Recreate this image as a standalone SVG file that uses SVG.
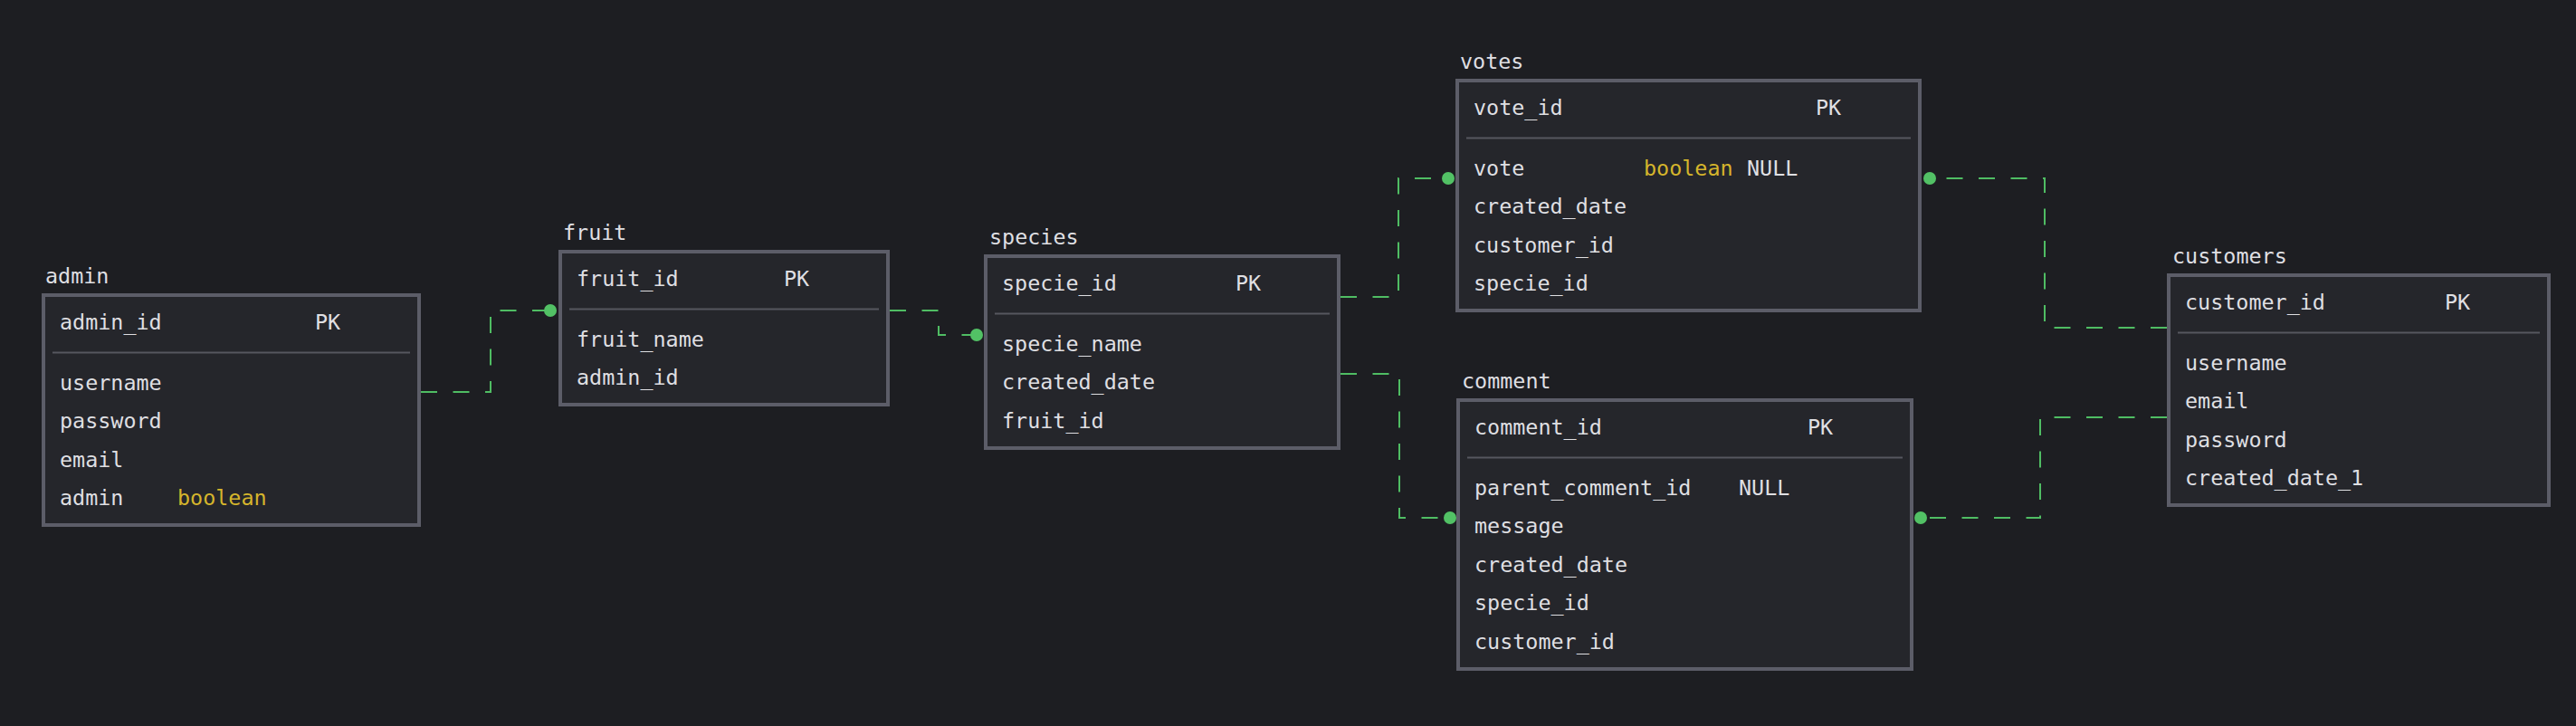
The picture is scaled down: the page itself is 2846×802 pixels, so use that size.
<svg xmlns="http://www.w3.org/2000/svg" width="2846" height="802" viewBox="0 0 2846 802">
<style>
text{font-family:"DejaVu Sans Mono","Liberation Mono",monospace;font-size:23.4px;fill:#dfdfe2}
.box{fill:#25262b;stroke:#5c5d68;stroke-width:4}
.sep{stroke:#56575f;stroke-width:2}
.ty{fill:#d5b52c}
.conn{fill:none;stroke:#4fbd63;stroke-width:2;stroke-dasharray:18 17.5}
.dot{fill:#52c165}
</style>
<rect width="2846" height="802" fill="#1d1e22"/>
<g id="connectors">
<path class="conn" d="M465,433 H542 V343 H608"/>
<path class="conn" d="M983,343 H1037 V370 H1079"/>
<path class="conn" d="M1481,328 H1545 V197 H1600"/>
<path class="conn" d="M1481,413 H1546 V572 H1602"/>
<path class="conn" d="M2394,362 H2259 V197 H2132"/>
<path class="conn" d="M2394,461 H2254 V572 H2122"/>
<circle class="dot" cx="608" cy="343" r="7"/>
<circle class="dot" cx="1079" cy="370" r="7"/>
<circle class="dot" cx="1600" cy="197" r="7"/>
<circle class="dot" cx="1602" cy="572" r="7"/>
<circle class="dot" cx="2132" cy="197" r="7"/>
<circle class="dot" cx="2122" cy="572" r="7"/>
</g>
<g id="admin">
<text x="50" y="312.5">admin</text>
<rect class="box" x="48" y="326" width="415" height="254"/>
<text x="66" y="364">admin_id</text><text x="348" y="364">PK</text>
<line class="sep" x1="58" y1="389.5" x2="453" y2="389.5"/>
<text x="66" y="430.5">username</text>
<text x="66" y="473">password</text>
<text x="66" y="515.5">email</text>
<text x="66" y="558">admin</text><text class="ty" x="196" y="558">boolean</text>
</g>
<g id="fruit">
<text x="622" y="264.5">fruit</text>
<rect class="box" x="619" y="278" width="362" height="169"/>
<text x="637" y="316">fruit_id</text><text x="866" y="316">PK</text>
<line class="sep" x1="629" y1="341.5" x2="971" y2="341.5"/>
<text x="637" y="382.5">fruit_name</text>
<text x="637" y="425">admin_id</text>
</g>
<g id="species">
<text x="1093" y="269.5">species</text>
<rect class="box" x="1089" y="283" width="390" height="212"/>
<text x="1107" y="321">specie_id</text><text x="1365" y="321">PK</text>
<line class="sep" x1="1099" y1="346.5" x2="1469" y2="346.5"/>
<text x="1107" y="387.5">specie_name</text>
<text x="1107" y="430">created_date</text>
<text x="1107" y="472.5">fruit_id</text>
</g>
<g id="votes">
<text x="1613" y="75.5">votes</text>
<rect class="box" x="1610" y="89" width="511" height="254"/>
<text x="1628" y="127">vote_id</text><text x="2006" y="127">PK</text>
<line class="sep" x1="1620" y1="152.5" x2="2111" y2="152.5"/>
<text x="1628" y="193.5">vote</text><text class="ty" x="1816" y="193.5">boolean</text><text x="1930" y="193.5">NULL</text>
<text x="1628" y="236">created_date</text>
<text x="1628" y="278.5">customer_id</text>
<text x="1628" y="321">specie_id</text>
</g>
<g id="comment">
<text x="1615" y="428.5">comment</text>
<rect class="box" x="1611" y="442" width="501" height="297"/>
<text x="1629" y="480">comment_id</text><text x="1997" y="480">PK</text>
<line class="sep" x1="1621" y1="505.5" x2="2102" y2="505.5"/>
<text x="1629" y="546.5">parent_comment_id</text><text x="1921" y="546.5">NULL</text>
<text x="1629" y="589">message</text>
<text x="1629" y="631.5">created_date</text>
<text x="1629" y="674">specie_id</text>
<text x="1629" y="716.5">customer_id</text>
</g>
<g id="customers">
<text x="2400" y="290.5">customers</text>
<rect class="box" x="2396" y="304" width="420" height="254"/>
<text x="2414" y="342">customer_id</text><text x="2701" y="342">PK</text>
<line class="sep" x1="2406" y1="367.5" x2="2806" y2="367.5"/>
<text x="2414" y="408.5">username</text>
<text x="2414" y="451">email</text>
<text x="2414" y="493.5">password</text>
<text x="2414" y="536">created_date_1</text>
</g>
</svg>
